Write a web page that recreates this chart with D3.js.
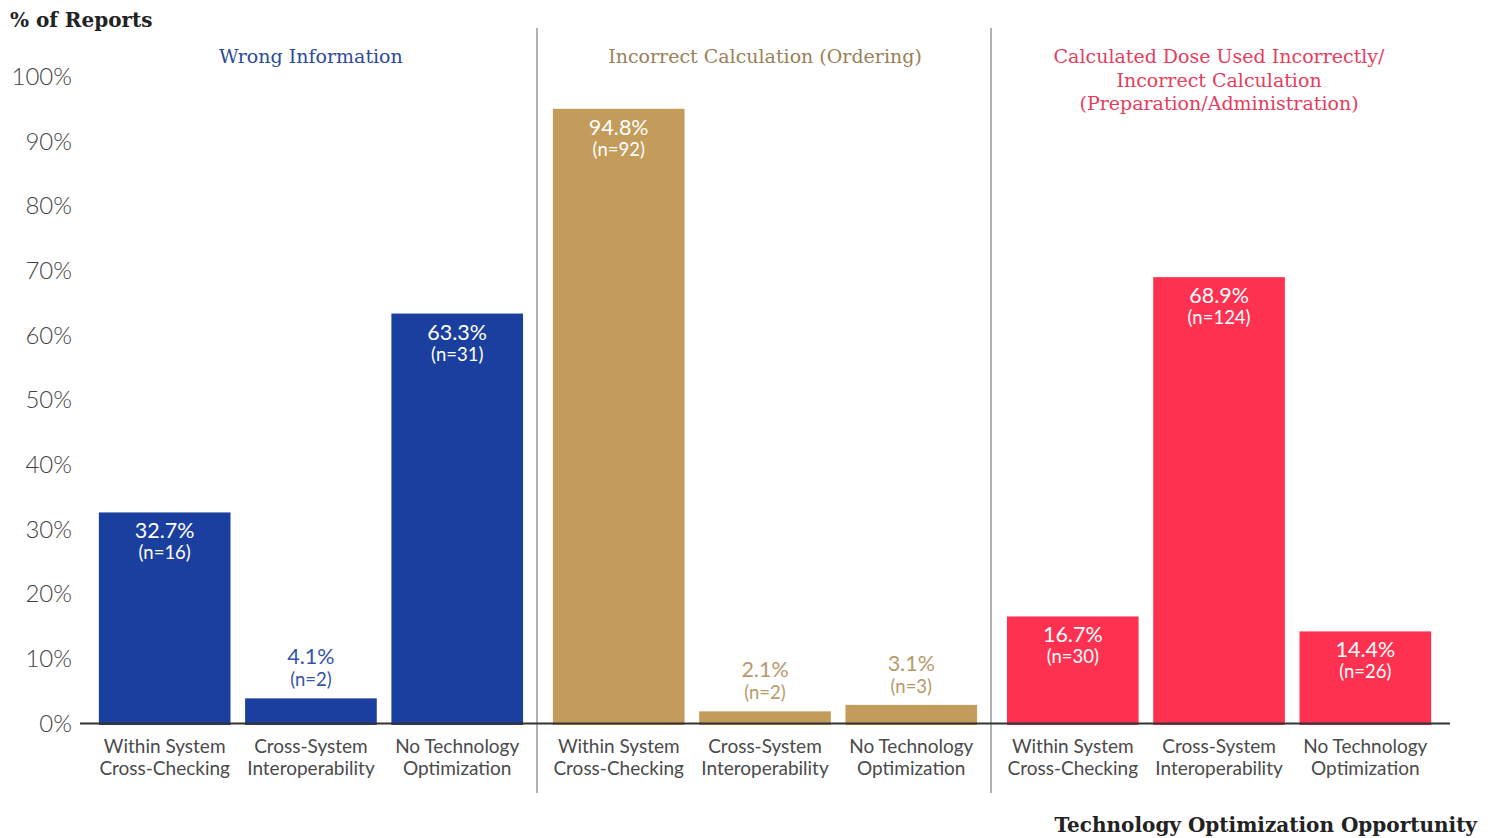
<!DOCTYPE html>
<html>
<head>
<meta charset="utf-8">
<script src="https://cdn.jsdelivr.net/npm/d3@7"></script>
<style>
  body { margin: 0; background: #fff; }
  text { font-family: Lato, "Open Sans", sans-serif; }
  .serif { font-family: "DejaVu Serif", "Liberation Serif", serif; }
</style>
</head>
<body>
<div id="chart"></div>
<script>
// chart size matches the window
const width = 1494;
const height = 838;

// data
const groups = ["Wrong Information", "Incorrect Calculation (Ordering)", "Calculated Dose Used Incorrectly"];
const groupTitles = [
  ["Wrong Information"],
  ["Incorrect Calculation (Ordering)"],
  ["Calculated Dose Used Incorrectly/", "Incorrect Calculation", "(Preparation/Administration)"]
];
const opportunities = ["Within System Cross-Checking", "Cross-System Interoperability", "No Technology Optimization"];
const opportunityLines = [["Within System", "Cross-Checking"], ["Cross-System", "Interoperability"], ["No Technology", "Optimization"]];
const wrongInfoPct = [32.7, 4.1, 63.3];
const wrongInfoN = [16, 2, 31];
const orderingPct = [94.8, 2.1, 3.1];
const orderingN = [92, 2, 3];
const doseUsedPct = [16.7, 68.9, 14.4];
const doseUsedN = [30, 124, 26];
const yTicks = [0, 10, 20, 30, 40, 50, 60, 70, 80, 90, 100];

const groupColors = ["#1b3f9e", "#c39b5a", "#fe3151"];
const titleColors = ["#2d4b9c", "#9a8158", "#e63d5d"];
const outsideColors = ["#3454a6", "#b8996a", "#e63d5d"];

const pctBy = [wrongInfoPct, orderingPct, doseUsedPct];
const nBy = [wrongInfoN, orderingN, doseUsedN];

// flatten into rows for the bars
const rows = [];
groups.forEach((g, gi) => {
  opportunities.forEach((o, oi) => {
    rows.push({group: g, gi: gi, opp: o, pct: pctBy[gi][oi], n: nBy[gi][oi]});
  });
});

const svg = d3.select("#chart")
  .append("svg")
  .attr("width", width)
  .attr("height", height);

// scales
const y = d3.scaleLinear()
  .domain([0, 100])
  .range([725, 75]);

const x0 = d3.scaleBand()
  .domain(groups)
  .range([93, 1437])
  .paddingInner(0.04);

const x1 = d3.scaleBand()
  .domain(opportunities)
  .range([0, x0.bandwidth()])
  .paddingInner(0.1)
  .paddingOuter(0.04);

// y axis labels, no ticks or grid
const yAxis = svg.append("g")
  .attr("transform", "translate(72,0)")
  .call(d3.axisLeft(y).tickValues(yTicks).tickSize(0).tickPadding(0).tickFormat(d => d + "%"));
yAxis.select(".domain").remove();
yAxis.selectAll("text")
  .attr("font-size", "24px")
  .attr("font-weight", 300)
  .attr("fill", "#444")
  .attr("dy", d => (0.32 + (d - 50) / 50 * 0.07) + "em")
  .attr("font-family", "Lato, sans-serif");

// y title
svg.append("text")
  .attr("class", "serif")
  .attr("x", 10)
  .attr("y", 27)
  .attr("font-size", "20px")
  .attr("font-weight", "bold")
  .attr("fill", "#222")
  .text("% of Reports");

// group separators
const seps = groups.slice(1).map(g => x0(g) - (x0.step() - x0.bandwidth()) / 2);
svg.selectAll(".sep")
  .data(seps)
  .enter()
  .append("line")
    .attr("class", "sep")
    .attr("x1", d => d - 1)
    .attr("x2", d => d - 1)
    .attr("y1", 28)
    .attr("y2", 793)
    .attr("stroke", "#999")
    .attr("stroke-width", 1.5);

// bars
svg.selectAll(".bar")
  .data(rows)
  .enter()
  .append("rect")
    .attr("class", "bar")
    .attr("x", d => x0(d.group) + x1(d.opp))
    .attr("y", d => y(d.pct))
    .attr("width", x1.bandwidth())
    .attr("height", d => y(0) - y(d.pct))
    .attr("fill", d => groupColors[d.gi]);

// bar labels: inside for tall bars, above for short ones
const labels = svg.selectAll(".lbl")
  .data(rows)
  .enter()
  .append("g")
    .attr("class", "lbl")
    .attr("transform", d => `translate(${x0(d.group) + x1(d.opp) + x1.bandwidth() / 2},${y(d.pct)})`);

labels.append("text")
  .attr("text-anchor", "middle")
  .attr("y", d => d.pct < 10 ? -34 : 26)
  .attr("font-size", "21.5px")
  .attr("fill", d => d.pct < 10 ? outsideColors[d.gi] : "#fff")
  .text(d => d.pct.toFixed(1) + "%");

labels.append("text")
  .attr("text-anchor", "middle")
  .attr("y", d => d.pct < 10 ? -12 : 47)
  .attr("font-size", "18.5px")
  .attr("fill", d => d.pct < 10 ? outsideColors[d.gi] : "#fff")
  .text(d => "(n=" + d.n + ")");

// baseline
svg.append("line")
  .attr("x1", 80)
  .attr("x2", 1450)
  .attr("y1", y(0) - 1.5)
  .attr("y2", y(0) - 1.5)
  .attr("stroke", "#333")
  .attr("stroke-width", 2);

// x category labels
rows.forEach(d => {
  const oi = opportunities.indexOf(d.opp);
  const cx = x0(d.group) + x1(d.opp) + x1.bandwidth() / 2;
  const t = svg.append("text")
    .attr("text-anchor", "middle")
    .attr("x", cx)
    .attr("y", 753)
    .attr("font-size", "19px")
    .attr("fill", "#4a4a4a");
  opportunityLines[oi].forEach((line, li) => {
    t.append("tspan")
      .attr("x", cx)
      .attr("dy", li === 0 ? 0 : 22)
      .text(line);
  });
});

// group titles
groups.forEach((g, gi) => {
  const cx = x0(g) + x0.bandwidth() / 2;
  const t = svg.append("text")
    .attr("class", "serif")
    .attr("text-anchor", "middle")
    .attr("x", cx)
    .attr("y", 63)
    .attr("font-size", "19px")
    .attr("fill", titleColors[gi]);
  groupTitles[gi].forEach((line, li) => {
    t.append("tspan")
      .attr("x", cx)
      .attr("dy", li === 0 ? 0 : 23.5)
      .text(line);
  });
});

// x title
svg.append("text")
  .attr("class", "serif")
  .attr("text-anchor", "end")
  .attr("x", 1477)
  .attr("y", 832)
  .attr("font-size", "20px")
  .attr("font-weight", "bold")
  .attr("fill", "#222")
  .text("Technology Optimization Opportunity");
</script>
</body>
</html>
